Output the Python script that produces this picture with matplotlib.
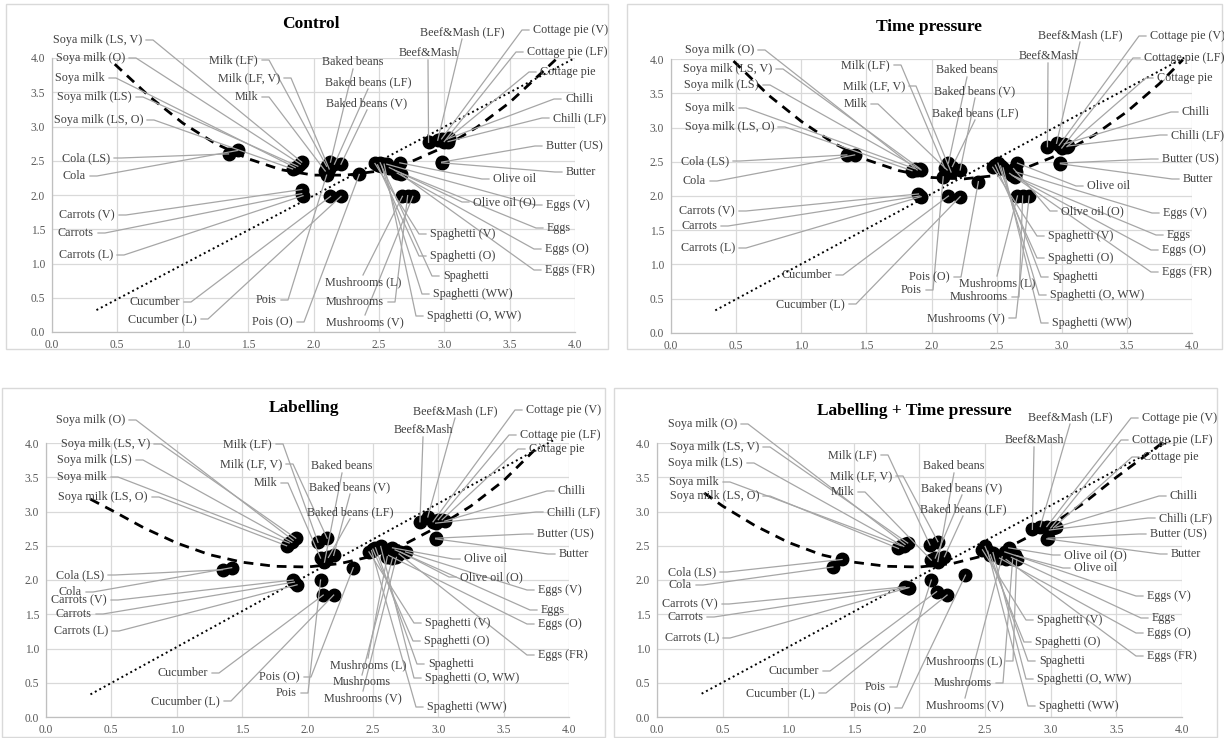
import matplotlib
matplotlib.use("Agg")
import matplotlib.pyplot as plt
import numpy as np
from matplotlib.patches import Rectangle

plt.rcParams["font.family"] = ["Liberation Serif", "DejaVu Serif"]

FIG_W, FIG_H = 1224, 738

foods = [
    "Soya milk (LS, V)", "Soya milk (O)", "Soya milk", "Soya milk (LS)", "Soya milk (LS, O)",
    "Cola (LS)", "Cola",
    "Carrots (V)", "Carrots", "Carrots (L)",
    "Cucumber", "Cucumber (L)",
    "Pois", "Pois (O)",
    "Milk (LF)", "Milk (LF, V)", "Milk",
    "Baked beans", "Baked beans (LF)", "Baked beans (V)",
    "Mushrooms (L)", "Mushrooms", "Mushrooms (V)",
    "Spaghetti (V)", "Spaghetti (O)", "Spaghetti", "Spaghetti (WW)", "Spaghetti (O, WW)",
    "Beef&Mash (LF)", "Beef&Mash",
    "Cottage pie (V)", "Cottage pie (LF)", "Cottage pie",
    "Chilli", "Chilli (LF)",
    "Butter (US)", "Butter",
    "Olive oil", "Olive oil (O)",
    "Eggs (V)", "Eggs", "Eggs (O)", "Eggs (FR)",
]

control_x = [1.91, 1.90, 1.86, 1.88, 1.84, 1.35, 1.42, 1.91, 1.91, 1.92, 2.13, 2.21, 2.10, 2.35,
             2.10, 2.12, 2.09, 2.13, 2.16, 2.21, 2.68, 2.72, 2.76, 2.47, 2.49, 2.51, 2.52, 2.54,
             2.95, 2.88, 2.98, 3.00, 3.02, 3.04, 3.03, 2.98, 2.98, 2.66, 2.58, 2.56, 2.62, 2.64, 2.67]
control_y = [2.48, 2.45, 2.40, 2.42, 2.38, 2.60, 2.65, 2.08, 2.02, 1.99, 1.98, 1.98, 2.29, 2.30,
             2.42, 2.38, 2.35, 2.48, 2.45, 2.45, 1.98, 1.99, 1.98, 2.46, 2.44, 2.47, 2.43, 2.45,
             2.80, 2.77, 2.82, 2.78, 2.81, 2.83, 2.78, 2.48, 2.47, 2.47, 2.40, 2.45, 2.36, 2.32, 2.30]

time_x = [1.91, 1.89, 1.87, 1.92, 1.85, 1.35, 1.41, 1.90, 1.91, 1.92, 2.13, 2.22, 2.09, 2.36,
          2.10, 2.15, 2.12, 2.13, 2.16, 2.22, 2.66, 2.70, 2.75, 2.47, 2.49, 2.51, 2.55, 2.53,
          2.96, 2.89, 2.98, 3.00, 3.04, 3.02, 3.05, 2.99, 2.99, 2.66, 2.63, 2.65, 2.62, 2.64, 2.60]
time_y = [2.40, 2.38, 2.40, 2.38, 2.37, 2.60, 2.60, 2.03, 2.00, 1.99, 2.00, 1.99, 2.28, 2.21,
          2.41, 2.35, 2.38, 2.48, 2.43, 2.38, 2.00, 2.00, 2.00, 2.42, 2.45, 2.48, 2.41, 2.44,
          2.77, 2.72, 2.74, 2.70, 2.72, 2.76, 2.73, 2.48, 2.47, 2.48, 2.40, 2.35, 2.30, 2.28, 2.33]

label_x = [1.91, 1.89, 1.86, 1.88, 1.84, 1.35, 1.42, 1.89, 1.90, 1.92, 2.12, 2.20, 2.10, 2.35,
           2.08, 2.15, 2.10, 2.13, 2.16, 2.20, 2.61, 2.65, 2.68, 2.47, 2.50, 2.52, 2.49, 2.56,
           2.92, 2.86, 2.96, 3.00, 3.03, 3.05, 2.98, 2.98, 2.98, 2.65, 2.71, 2.75, 2.67, 2.62, 2.70]
label_y = [2.61, 2.58, 2.54, 2.55, 2.50, 2.15, 2.18, 2.00, 1.97, 1.93, 1.78, 1.78, 2.00, 2.18,
           2.55, 2.61, 2.32, 2.26, 2.33, 2.36, 2.34, 2.32, 2.33, 2.41, 2.45, 2.47, 2.43, 2.49,
           2.92, 2.85, 2.85, 2.88, 2.88, 2.86, 2.83, 2.61, 2.60, 2.47, 2.41, 2.41, 2.44, 2.36, 2.38]

both_x = [1.91, 1.89, 1.86, 1.88, 1.84, 1.41, 1.34, 1.89, 1.91, 1.92, 2.13, 2.21, 2.09, 2.35,
          2.08, 2.14, 2.09, 2.14, 2.19, 2.12, 2.74, 2.71, 2.63, 2.48, 2.50, 2.54, 2.52, 2.56,
          2.92, 2.86, 2.97, 3.00, 3.02, 3.04, 2.99, 2.98, 2.97, 2.73, 2.68, 2.65, 2.70, 2.61, 2.66]
both_y = [2.54, 2.52, 2.50, 2.49, 2.46, 2.30, 2.19, 1.90, 1.89, 1.89, 1.83, 1.78, 2.00, 2.07,
          2.51, 2.56, 2.29, 2.27, 2.34, 2.32, 2.30, 2.31, 2.34, 2.44, 2.49, 2.37, 2.42, 2.40,
          2.78, 2.74, 2.78, 2.76, 2.76, 2.77, 2.73, 2.61, 2.60, 2.36, 2.47, 2.41, 2.33, 2.32, 2.30]

# polynomial trend lines read at fixed x positions
trend_control_x = [0.48, 0.75, 1.0, 1.25, 1.5, 1.75, 2.0, 2.25, 2.5, 2.75, 3.0, 3.25, 3.5, 3.86]
trend_control_y = [3.91, 3.43, 3.05, 2.75, 2.53, 2.37, 2.29, 2.29, 2.35, 2.49, 2.70, 2.99, 3.35, 3.99]
trend_time_x = [0.48, 0.75, 1.0, 1.25, 1.5, 1.75, 2.0, 2.25, 2.5, 2.75, 3.0, 3.25, 3.5, 3.75, 3.93]
trend_time_y = [3.97, 3.47, 3.09, 2.77, 2.53, 2.37, 2.27, 2.25, 2.30, 2.43, 2.62, 2.89, 3.23, 3.64, 3.99]
trend_label_x = [0.34, 0.5, 0.75, 1.0, 1.25, 1.5, 1.75, 2.0, 2.25, 2.5, 2.75, 3.0, 3.25, 3.5, 3.78]
trend_label_y = [3.18, 3.02, 2.76, 2.54, 2.37, 2.26, 2.20, 2.19, 2.24, 2.35, 2.53, 2.78, 3.08, 3.45, 3.98]
trend_both_x = [0.36, 0.5, 0.75, 1.0, 1.25, 1.5, 1.75, 2.0, 2.25, 2.5, 2.75, 3.0, 3.25, 3.5, 3.85]
trend_both_y = [3.27, 3.08, 2.79, 2.55, 2.37, 2.26, 2.20, 2.19, 2.24, 2.36, 2.55, 2.80, 3.12, 3.50, 4.00]

# dotted reference lines (start and end)
ref_control_x, ref_control_y = [0.34, 4.00], [0.32, 4.00]
ref_time_x, ref_time_y = [0.34, 3.94], [0.33, 4.02]
ref_label_x, ref_label_y = [0.34, 3.90], [0.33, 4.06]
ref_both_x, ref_both_y = [0.34, 3.92], [0.34, 4.04]

# label layout: kind, x px, y px (figure pixels, origin top-left)
# r: text left of its leader, l: text right of its leader, t: leader from below text, b: leader from above text
control_labels = {
    "Soya milk (LS, V)": ("r", 142, 40), "Soya milk (O)": ("r", 125, 58), "Soya milk": ("r", 105, 78),
    "Soya milk (LS)": ("r", 132, 97), "Soya milk (LS, O)": ("r", 143, 120),
    "Cola (LS)": ("r", 110, 158), "Cola": ("r", 86, 176),
    "Carrots (V)": ("r", 115, 215), "Carrots": ("r", 94, 233), "Carrots (L)": ("r", 113, 255),
    "Cucumber": ("r", 180, 302), "Cucumber (L)": ("r", 197, 319),
    "Pois": ("r", 277, 300), "Pois (O)": ("r", 293, 322),
    "Milk (LF)": ("r", 258, 60), "Milk (LF, V)": ("r", 280, 78), "Milk": ("r", 258, 97),
    "Baked beans": ("t", 353, 62), "Baked beans (LF)": ("t", 368, 82), "Baked beans (V)": ("t", 367, 103),
    "Mushrooms (L)": ("b", 363, 282), "Mushrooms": ("r", 384, 302), "Mushrooms (V)": ("b", 365, 322),
    "Spaghetti (V)": ("l", 430, 234), "Spaghetti (O)": ("l", 430, 256), "Spaghetti": ("l", 443, 276),
    "Spaghetti (WW)": ("l", 433, 294), "Spaghetti (O, WW)": ("l", 427, 316),
    "Beef&Mash (LF)": ("t", 462, 32), "Beef&Mash": ("t", 428, 53),
    "Cottage pie (V)": ("l", 533, 30), "Cottage pie (LF)": ("l", 527, 52), "Cottage pie": ("l", 540, 72),
    "Chilli": ("l", 565, 99), "Chilli (LF)": ("l", 553, 118),
    "Butter (US)": ("l", 546, 146), "Butter": ("l", 566, 172),
    "Olive oil": ("l", 493, 179), "Olive oil (O)": ("l", 473, 202),
    "Eggs (V)": ("l", 546, 205), "Eggs": ("l", 547, 228), "Eggs (O)": ("l", 545, 249), "Eggs (FR)": ("l", 545, 270),
}

time_labels = {
    "Soya milk (O)": ("r", 754, 50), "Soya milk (LS, V)": ("r", 772, 69), "Soya milk (LS)": ("r", 759, 85),
    "Soya milk": ("r", 735, 108), "Soya milk (LS, O)": ("r", 774, 127),
    "Cola (LS)": ("r", 729, 161), "Cola": ("r", 706, 181),
    "Carrots (V)": ("r", 735, 211), "Carrots": ("r", 717, 226), "Carrots (L)": ("r", 735, 248),
    "Cucumber": ("r", 832, 275), "Cucumber (L)": ("r", 845, 304),
    "Milk (LF)": ("r", 890, 65), "Milk (LF, V)": ("r", 905, 86), "Milk": ("r", 867, 104),
    "Pois (O)": ("r", 950, 277), "Pois": ("r", 922, 290),
    "Baked beans": ("t", 967, 70), "Baked beans (V)": ("t", 975, 91), "Baked beans (LF)": ("t", 975, 113),
    "Mushrooms (L)": ("b", 997, 283), "Mushrooms": ("r", 1008, 297), "Mushrooms (V)": ("r", 1005, 318),
    "Beef&Mash (LF)": ("t", 1080, 35), "Beef&Mash": ("t", 1048, 56),
    "Cottage pie (V)": ("l", 1150, 36), "Cottage pie (LF)": ("l", 1144, 58), "Cottage pie": ("l", 1157, 78),
    "Chilli": ("l", 1182, 112), "Chilli (LF)": ("l", 1171, 135),
    "Butter (US)": ("l", 1162, 159), "Butter": ("l", 1183, 179),
    "Olive oil": ("l", 1087, 186), "Olive oil (O)": ("l", 1061, 211),
    "Eggs (V)": ("l", 1163, 213), "Eggs": ("l", 1167, 235), "Eggs (O)": ("l", 1162, 250), "Eggs (FR)": ("l", 1162, 272),
    "Spaghetti (V)": ("l", 1048, 236), "Spaghetti (O)": ("l", 1048, 258), "Spaghetti": ("l", 1052, 277),
    "Spaghetti (O, WW)": ("l", 1050, 295), "Spaghetti (WW)": ("l", 1052, 323),
}

label_labels = {
    "Soya milk (O)": ("r", 125, 420), "Soya milk (LS, V)": ("r", 150, 444), "Soya milk (LS)": ("r", 132, 460),
    "Soya milk": ("r", 107, 477), "Soya milk (LS, O)": ("r", 148, 497),
    "Cola (LS)": ("r", 104, 575), "Cola": ("r", 82, 592),
    "Carrots (V)": ("r", 107, 600), "Carrots": ("r", 92, 614), "Carrots (L)": ("r", 108, 631),
    "Cucumber": ("r", 208, 673), "Cucumber (L)": ("r", 220, 701),
    "Pois (O)": ("r", 300, 677), "Pois": ("r", 297, 693),
    "Milk (LF)": ("r", 272, 444), "Milk (LF, V)": ("r", 282, 464), "Milk": ("r", 277, 483),
    "Baked beans": ("t", 342, 466), "Baked beans (V)": ("t", 350, 487), "Baked beans (LF)": ("t", 350, 512),
    "Mushrooms (L)": ("b", 368, 665), "Mushrooms": ("b", 362, 682), "Mushrooms (V)": ("b", 363, 698),
    "Beef&Mash (LF)": ("t", 455, 411), "Beef&Mash": ("t", 423, 430),
    "Cottage pie (V)": ("l", 526, 410), "Cottage pie (LF)": ("l", 520, 435), "Cottage pie": ("l", 529, 449),
    "Chilli": ("l", 558, 491), "Chilli (LF)": ("l", 547, 512),
    "Butter (US)": ("l", 537, 534), "Butter": ("l", 559, 554),
    "Olive oil": ("l", 464, 559), "Olive oil (O)": ("l", 460, 577),
    "Eggs (V)": ("l", 538, 590), "Eggs": ("l", 541, 610), "Eggs (O)": ("l", 538, 624), "Eggs (FR)": ("l", 538, 655),
    "Spaghetti (V)": ("l", 425, 623), "Spaghetti (O)": ("l", 424, 641), "Spaghetti": ("l", 428, 664),
    "Spaghetti (O, WW)": ("l", 425, 678), "Spaghetti (WW)": ("l", 427, 707),
}

both_labels = {
    "Soya milk (O)": ("r", 737, 424), "Soya milk (LS, V)": ("r", 759, 447), "Soya milk (LS)": ("r", 743, 463),
    "Soya milk": ("r", 719, 482), "Soya milk (LS, O)": ("r", 759, 496),
    "Cola (LS)": ("r", 716, 572), "Cola": ("r", 692, 585),
    "Carrots (V)": ("r", 718, 604), "Carrots": ("r", 703, 617), "Carrots (L)": ("r", 719, 638),
    "Cucumber": ("r", 819, 671), "Cucumber (L)": ("r", 815, 693),
    "Pois": ("r", 886, 687), "Pois (O)": ("r", 891, 708),
    "Milk (LF)": ("r", 877, 455), "Milk (LF, V)": ("r", 892, 476), "Milk": ("r", 854, 492),
    "Baked beans": ("t", 954, 466), "Baked beans (V)": ("t", 962, 488), "Baked beans (LF)": ("t", 963, 509),
    "Beef&Mash (LF)": ("t", 1070, 417), "Beef&Mash": ("t", 1034, 440),
    "Mushrooms (L)": ("r", 1002, 661), "Mushrooms": ("r", 992, 683), "Mushrooms (V)": ("b", 965, 705),
    "Cottage pie (V)": ("l", 1142, 418), "Cottage pie (LF)": ("l", 1132, 440), "Cottage pie": ("l", 1143, 457),
    "Chilli": ("l", 1170, 496), "Chilli (LF)": ("l", 1159, 518),
    "Butter (US)": ("l", 1150, 534), "Butter": ("l", 1171, 554),
    "Olive oil (O)": ("l", 1064, 555), "Olive oil": ("l", 1074, 568),
    "Eggs (V)": ("l", 1147, 596), "Eggs": ("l", 1152, 618), "Eggs (O)": ("l", 1147, 633), "Eggs (FR)": ("l", 1147, 656),
    "Spaghetti (V)": ("l", 1037, 620), "Spaghetti (O)": ("l", 1035, 642), "Spaghetti": ("l", 1039, 661),
    "Spaghetti (O, WW)": ("l", 1037, 679), "Spaghetti (WW)": ("l", 1039, 706),
}

PANELS = [
    dict(title="Control", title_xy=(311, 24), frame=(6, 4, 608, 349), rect=(52, 58, 575, 332),
         xs=control_x, ys=control_y, trend=(trend_control_x, trend_control_y),
         ref=(ref_control_x, ref_control_y), labels=control_labels),
    dict(title="Time pressure", title_xy=(929, 27), frame=(627, 4, 1222, 349), rect=(671, 59, 1192, 333),
         xs=time_x, ys=time_y, trend=(trend_time_x, trend_time_y),
         ref=(ref_time_x, ref_time_y), labels=time_labels),
    dict(title="Labelling", title_xy=(304, 408), frame=(2, 388, 605, 737), rect=(46, 443, 569, 717),
         xs=label_x, ys=label_y, trend=(trend_label_x, trend_label_y),
         ref=(ref_label_x, ref_label_y), labels=label_labels),
    dict(title="Labelling + Time pressure", title_xy=(914, 411), frame=(614, 388, 1217, 737),
         rect=(657, 443, 1182, 717),
         xs=both_x, ys=both_y, trend=(trend_both_x, trend_both_y),
         ref=(ref_both_x, ref_both_y), labels=both_labels),
]

LEADER = "#a6a6a6"
TEXT = "#404040"
GRID = "#d9d9d9"


def to_data(rect, px, py):
    left, top, right, bottom = rect
    return (px - left) / (right - left) * 4.0, (bottom - py) / (bottom - top) * 4.0


def draw_panel(fig, spec):
    fl, ft, fr, fb = spec["frame"]
    fig.add_artist(Rectangle((fl / FIG_W, 1 - fb / FIG_H), (fr - fl) / FIG_W, (fb - ft) / FIG_H,
                             transform=fig.transFigure, facecolor="white", edgecolor=GRID, lw=1.0, zorder=0))

    left, top, right, bottom = spec["rect"]
    ax = fig.add_axes([left / FIG_W, 1 - bottom / FIG_H, (right - left) / FIG_W, (bottom - top) / FIG_H])
    ax.set_xlim(0, 4)
    ax.set_ylim(0, 4)
    ticks = np.arange(0, 4.01, 0.5)
    ax.set_xticks(ticks, [f"{t:.1f}" for t in ticks])
    ax.set_yticks(ticks, [f"{t:.1f}" for t in ticks])
    ax.tick_params(length=0, labelsize=8.3, labelcolor="#595959", pad=5)
    ax.grid(True, color=GRID, lw=0.9)
    ax.set_axisbelow(True)
    for side in ("top", "right"):
        ax.spines[side].set_visible(False)
    for side in ("left", "bottom"):
        ax.spines[side].set_color("#bfbfbf")
        ax.spines[side].set_linewidth(0.9)
    ax.patch.set_alpha(0)

    ax.plot(*spec["ref"], ls=(0, (1, 1.6)), color="black", lw=1.4, zorder=3, clip_on=False)
    ax.plot(*spec["trend"], ls=(0, (3.5, 2.5)), color="black", lw=2.0, zorder=3, clip_on=False)
    ax.plot(spec["xs"], spec["ys"], "o", color="black", ms=9, zorder=4)

    rect = spec["rect"]
    for name, x, y in zip(foods, spec["xs"], spec["ys"]):
        kind, px, py = spec["labels"][name]
        if kind == "r":
            ha, path = "right", [(px + 4, py), (px + 11, py)]
        elif kind == "l":
            ha, path = "left", [(px - 4, py), (px - 11, py)]
        elif kind == "t":
            ha, path = "center", [(px, py + 7)]
        else:
            ha, path = "center", [(px, py - 7)]
        pts = [to_data(rect, *p) for p in path] + [(x, y)]
        ax.plot([p[0] for p in pts], [p[1] for p in pts], color=LEADER, lw=0.9, zorder=5, clip_on=False)
        tx, ty = to_data(rect, px, py)
        ax.text(tx, ty, name, ha=ha, va="center", fontsize=8.7, color=TEXT, zorder=6, clip_on=False)

    tx, ty = spec["title_xy"]
    fig.text(tx / FIG_W, 1 - ty / FIG_H, spec["title"], ha="center", va="center",
             fontsize=12.5, fontweight="bold", color="black")


def main():
    fig = plt.figure(figsize=(FIG_W / 100, FIG_H / 100), dpi=100)
    fig.patch.set_facecolor("white")
    for spec in PANELS:
        draw_panel(fig, spec)
    fig.savefig("out.png", dpi=100)
    plt.close(fig)


if __name__ == "__main__":
    main()
